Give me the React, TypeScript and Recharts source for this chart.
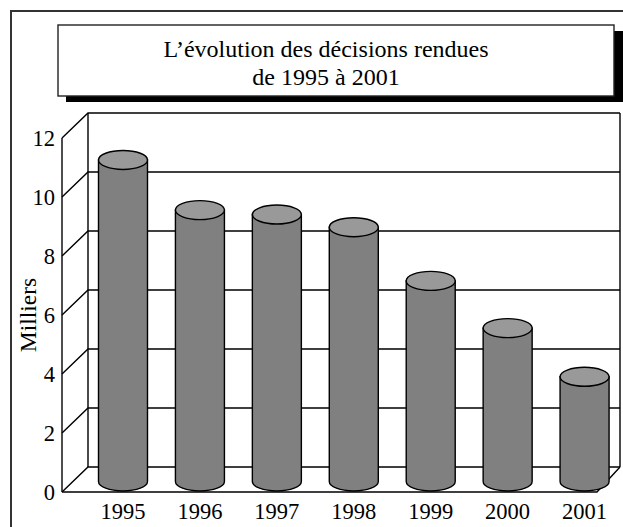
import { BarChart, Bar, XAxis, YAxis, CartesianGrid, Label } from "recharts";

const years = ["1995", "1996", "1997", "1998", "1999", "2000", "2001"];
const decisions = [10.9, 9.2, 9.05, 8.62, 6.8, 5.2, 3.55];
const yTicks = [0, 2, 4, 6, 8, 10, 12];
const titleLines = ["L’évolution des décisions rendues", "de 1995 à 2001"];

const chartData = years.map((year, i) => ({ year, value: decisions[i] }));

const FONT = "'Liberation Serif', 'Times New Roman', serif";
const INK = "#000";
const LINE = 1.4;
const TICK_SIZE = 22.5;

// plot area, i.e. the front plane of the box
const PLOT_LEFT = 62;
const PLOT_TOP = 138;
const PLOT_BOTTOM = 492;
const FLOOR_RIGHT = 597;
// back wall offsets
const DEPTH_X = 26;
const DEPTH_Y = 25;
const WALL_RIGHT = 620;
// bars stand in the middle of the floor
const BAR_LIFT = 10.5;
const CAP_RY = 9.5;

const wallLine = (props: any) => {
  const { x1, y1 } = props;
  const backY = y1 - DEPTH_Y;
  const backX = x1 + DEPTH_X;
  const isTop = Math.abs(y1 - PLOT_TOP) < 1;
  const isBottom = Math.abs(y1 - PLOT_BOTTOM) < 1;
  return (
    <g key={props.key ?? y1} fill="none" stroke={INK} strokeWidth={LINE}>
      <path d={`M${x1},${y1}L${backX},${backY}L${WALL_RIGHT},${backY}`} />
      {isTop && (
        <path
          d={`M${backX},${backY}V${PLOT_BOTTOM - DEPTH_Y}M${WALL_RIGHT},${backY}V${PLOT_BOTTOM - DEPTH_Y}`}
        />
      )}
      {isBottom && (
        <path d={`M${x1},${y1}H${FLOOR_RIGHT}L${WALL_RIGHT},${backY}`} />
      )}
    </g>
  );
};

// ─── Cylinder bar ─────────────────────────────────────────────────────────────
const Cylinder = ({ x, y, width, height }: any) => {
  const rx = width / 2;
  const top = y - BAR_LIFT;
  const base = y + height - BAR_LIFT;
  return (
    <g stroke={INK} strokeWidth={LINE}>
      <path
        d={`M${x},${top}V${base}A${rx},${CAP_RY} 0 0 0 ${x + width},${base}V${top}Z`}
        fill="#808080"
      />
      <ellipse cx={x + rx} cy={top} rx={rx} ry={CAP_RY} fill="#999999" />
    </g>
  );
};

export default function App() {
  return (
    <div style={{ position: "absolute", left: 0, top: 0, width: 623, height: 527 }}>
      <BarChart
        width={623}
        height={527}
        data={chartData}
        margin={{ top: PLOT_TOP, right: 0, bottom: 0, left: 0 }}
        style={{ fontFamily: FONT }}
      >
        {/* outer frame */}
        <path d="M11,527V11H623" fill="none" stroke="#333" strokeWidth={2} />

        {/* title box */}
        <rect x={66} y={31} width={557} height={71} fill={INK} />
        <rect x={58} y={25} width={556} height={71} fill="#fff" stroke="#222" strokeWidth={1.4} />
        {titleLines.map((line, i) => (
          <text
            key={line}
            x={326}
            y={57 + i * 28}
            textAnchor="middle"
            fontFamily={FONT}
            fontSize={24}
            fill={INK}
          >
            {line}
          </text>
        ))}

        <CartesianGrid horizontal={wallLine} vertical={false} />
        <XAxis
          dataKey="year"
          height={35}
          padding={{ left: 22.5, right: 0 }}
          axisLine={false}
          tickLine={false}
          tickMargin={5}
          interval={0}
          tick={{ fill: INK, fontSize: TICK_SIZE, fontFamily: FONT }}
        />
        <YAxis
          width={PLOT_LEFT}
          domain={[0, 12]}
          ticks={yTicks}
          interval={0}
          axisLine={{ stroke: INK, strokeWidth: LINE }}
          tickLine={false}
          tickMargin={1}
          tick={{ fill: INK, fontSize: TICK_SIZE, fontFamily: FONT }}
        >
          <Label
            value="Milliers"
            angle={-90}
            position="insideLeft"
            offset={28}
            style={{ fill: INK, fontSize: 23.5, fontFamily: FONT, textAnchor: "middle" }}
          />
        </YAxis>
        <Bar dataKey="value" barSize={49} shape={<Cylinder />} isAnimationActive={false} />
      </BarChart>
    </div>
  );
}
